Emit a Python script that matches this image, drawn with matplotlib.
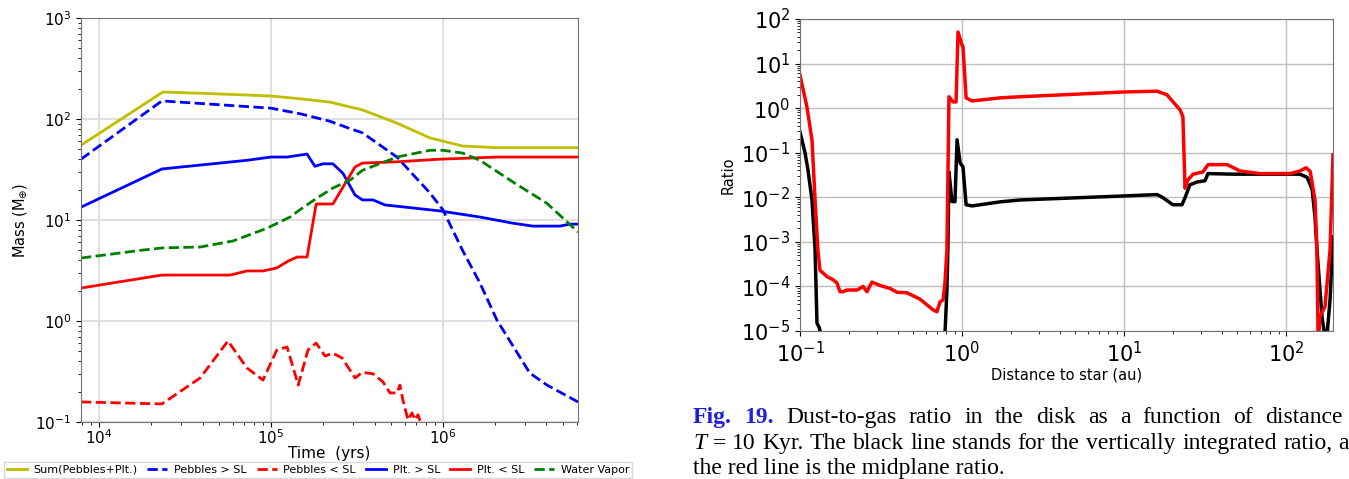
import numpy as np
import matplotlib.pyplot as plt
from matplotlib.ticker import LogLocator

# Panel izquierdo: masas (M_tierra) vs tiempo (años)
t_sum = [7850, 23500, 50000, 1.0e5, 1.5e5, 2.2e5, 3.4e5, 5.4e5, 8.4e5, 1.3e6, 2.06e6, 6.1e6]
m_sum = [55, 185, 177, 169, 158, 147, 123, 91, 65, 54, 52, 52]

t_peb_hi = [7850, 23200, 1.0e5, 1.5e5, 2.2e5, 2.9e5, 3.4e5, 5.4e5, 8.4e5, 1.0e6, 1.3e6,
            1.64e6, 2.06e6, 3.2e6, 4.03e6, 6.1e6]
m_peb_hi = [40, 151, 128, 112, 95, 80, 73, 42, 18.5, 12.6, 5.0, 2.38, 1.02, 0.305, 0.232, 0.158]

t_peb_lo = [7850, 23200, 38700, 56200, 72400, 89800, 1.08e5, 1.24e5, 1.44e5, 1.64e5, 1.83e5,
            2.06e5, 2.29e5, 2.59e5, 3.08e5, 3.4e5, 3.92e5, 4.48e5, 4.92e5, 5.4e5, 5.62e5,
            5.85e5, 6.26e5, 6.6e5, 6.88e5, 7.16e5, 7.55e5]
m_peb_lo = [0.158, 0.151, 0.273, 0.634, 0.343, 0.26, 0.516, 0.553, 0.232, 0.516, 0.605,
            0.45, 0.48, 0.43, 0.273, 0.31, 0.30, 0.249, 0.194, 0.194, 0.232,
            0.165, 0.105, 0.123, 0.105, 0.118, 0.09]

t_plt_hi = [7850, 23200, 72400, 1.0e5, 1.24e5, 1.62e5, 1.8e5, 2.0e5, 2.29e5, 2.62e5, 3.08e5,
            3.4e5, 3.92e5, 4.6e5, 9.6e5, 1.64e6, 2.55e6, 3.33e6, 4.79e6, 5.47e6, 6.1e6]
m_plt_hi = [13.4, 32, 39, 42, 42, 45, 34, 36, 36, 29, 17.7,
            15.8, 15.8, 14.1, 12.3, 10.7, 9.3, 8.7, 8.7, 9.1, 9.1]

t_plt_lo = [7850, 23200, 57800, 72400, 89800, 1.08e5, 1.26e5, 1.42e5, 1.62e5, 1.83e5, 2.29e5,
            3.08e5, 3.4e5, 5.4e5, 9.6e5, 2.06e6, 6.1e6]
m_plt_lo = [2.12, 2.85, 2.85, 3.13, 3.13, 3.35, 3.93, 4.3, 4.3, 14.4, 14.4,
            33.5, 36.6, 37.7, 40, 42, 42]

t_vap = [7850, 17300, 23500, 38700, 60100, 94900, 1.29e5, 1.47e5, 1.85e5, 2.29e5, 2.9e5,
         3.4e5, 5.4e5, 8.4e5, 1.0e6, 1.3e6, 1.64e6, 2.55e6, 4.03e6, 6.1e6]
m_vap = [4.2, 5.0, 5.3, 5.4, 6.2, 8.3, 10.7, 12.6, 16.5, 20.7, 25,
         31, 42, 49, 49, 46, 39, 23.8, 14.6, 7.6]

# Panel derecho: cociente polvo/gas vs distancia (au)
r_mid = [0.1, 0.1104, 0.1186, 0.1239, 0.129, 0.1328, 0.1469, 0.160, 0.169, 0.1766, 0.184,
         0.195, 0.225, 0.245, 0.259, 0.278, 0.312, 0.360, 0.397, 0.457, 0.55, 0.662, 0.70,
         0.732, 0.764, 0.785, 0.807, 0.831, 0.880, 0.919, 0.945, 1.0, 1.014, 1.06, 1.153,
         1.72, 2.28, 9.87, 16.0, 18.4, 22.2, 23.1, 23.8, 24.8, 26.7, 30.7, 33.0, 43.3, 52.0,
         69.0, 106, 122, 133, 141, 151, 155, 158, 162, 174, 187, 195]
q_mid = [5.5, 1.06, 0.19, 0.0087, 6.6e-4, 2.3e-4, 1.66e-4, 1.41e-4, 1.2e-4, 7.6e-5, 7.6e-5,
         8.3e-5, 8.3e-5, 1.0e-4, 7.6e-5, 1.25e-4, 1.05e-4, 9.0e-5, 7.4e-5, 7.2e-5, 5.2e-5, 3.0e-5, 2.7e-5,
         4.5e-5, 5.0e-5, 1.2e-4, 6.6e-4, 1.8, 1.38, 1.38, 51, 26, 24, 1.7, 1.45,
         1.7, 1.8, 2.3, 2.4, 2.0, 0.91, 0.64, 0.016, 0.0245, 0.033, 0.037, 0.054, 0.054, 0.039,
         0.034, 0.034, 0.039, 0.046, 0.038, 0.0087, 7.4e-4, 5e-6, 2.1e-5, 3.5e-5, 6.6e-4, 0.09]

r_int = [0.1, 0.1074, 0.1121, 0.1186, 0.1239, 0.1273, 0.1310, 0.1340, 0.138,
         0.780, 0.807, 0.818, 0.831, 0.867, 0.905, 0.932, 0.973, 1.014, 1.06, 1.153,
         1.72, 2.28, 9.87, 16.0, 17.4, 20.0, 22.8, 23.8, 25.5, 28.2, 31.6, 33.0, 47.0,
         76.0, 122, 135, 145, 151, 155, 167, 177, 187, 195]
q_int = [0.29, 0.1, 0.04, 0.0087, 6.6e-4, 1.5e-5, 1.23e-5, 9e-6, 5e-6,
         5e-6, 8.3e-5, 6.6e-4, 0.037, 0.008, 0.008, 0.195, 0.059, 0.048, 0.0068, 0.0064,
         0.0079, 0.0087, 0.0107, 0.0115, 0.0098, 0.0068, 0.0068, 0.0098, 0.019, 0.022, 0.0235, 0.034, 0.033,
         0.033, 0.033, 0.028, 0.015, 0.0036, 7.4e-4, 2e-5, 5e-6, 5e-5, 1.3e-3]

# Texto del pie de figura
cap_line1 = ['Fig.', '19.', 'Dust-to-gas', 'ratio', 'in', 'the', 'disk', 'as', 'a',
             'function', 'of', 'distance']
cap_line2 = ['T', '=', '10', 'Kyr.', 'The', 'black', 'line', 'stands', 'for', 'the',
             'vertically', 'integrated', 'ratio,', 'a']
cap_line3 = 'the red line is the midplane ratio.'

W, H = 1349, 479
fig = plt.figure(figsize=(W / 100, H / 100), dpi=100)

# ---- panel izquierdo ----
ax1 = fig.add_axes([81 / W, 1 - 422 / H, (578 - 81) / W, (422 - 18) / H])
ax1.plot(t_sum, m_sum, color='y', lw=2, label='Sum(Pebbles+Plt.)')
ax1.plot(t_peb_hi, m_peb_hi, color='b', lw=2, ls='--', label='Pebbles > SL')
ax1.plot(t_peb_lo, m_peb_lo, color='r', lw=2, ls='--', label='Pebbles < SL')
ax1.plot(t_plt_hi, m_plt_hi, color='b', lw=2, label='Plt. > SL')
ax1.plot(t_plt_lo, m_plt_lo, color='r', lw=2, label='Plt. < SL')
ax1.plot(t_vap, m_vap, color='g', lw=2, ls='--', label='Water Vapor')
ax1.set_xscale('log')
ax1.set_yscale('log')
ax1.set_xlim(7850, 6.1e6)
ax1.set_ylim(0.1, 1000)
ax1.grid(True, which='major', color='0.85', lw=1.2)
ax1.tick_params(labelsize=11)
ax1.tick_params(axis='x', pad=1)
ax1.set_xlabel('Time  (yrs)', fontsize=11, labelpad=-1)
ax1.set_ylabel(r'Mass (M$_{\oplus}$)', fontsize=10.5)
for s in ax1.spines.values():
    s.set_color('0.45')
ax1.legend(loc='upper center', bbox_to_anchor=(318 / W, 1 - 462 / H),
           bbox_transform=fig.transFigure, ncol=6, fontsize=8,
           handlelength=1.8, handletextpad=0.6, columnspacing=0.9,
           borderpad=0.25, borderaxespad=0, fancybox=False, framealpha=1,
           edgecolor='0.85')

# ---- panel derecho ----
ax2 = fig.add_axes([800 / W, 1 - 331 / H, 533 / W, 312 / H])
ax2.plot(r_int, q_int, color='k', lw=2.5)
ax2.plot(r_mid, q_mid, color='r', lw=2.5)
ax2.set_xscale('log')
ax2.set_yscale('log')
ax2.set_xlim(0.1, 195)
ax2.set_ylim(1e-5, 100)
ax2.yaxis.set_major_locator(LogLocator(base=10, numticks=12))
ax2.yaxis.set_minor_locator(LogLocator(base=10, subs=np.arange(2, 10) * 1.0, numticks=12))
ax2.grid(True, which='major', color='0.75', lw=1)
ax2.tick_params(labelsize=15)
ax2.set_xlabel('Distance to star (au)', fontsize=10.5, labelpad=1)
ax2.set_ylabel('Ratio', fontsize=10.5)
for s in ax2.spines.values():
    s.set_color('0.45')

# ---- pie de figura, lineas justificadas ----
serif = 'Liberation Serif'
fs = 17
renderer = fig.canvas.get_renderer()


def justify(words, x0, x1, ybase, styles):
    txts = []
    for w, st in zip(words, styles):
        txts.append(fig.text(0, ybase, w, family=serif, fontsize=fs, **st))
    widths = [t.get_window_extent(renderer).width for t in txts]
    gap = (x1 - x0 - sum(widths)) / (len(txts) - 1)
    x = x0
    for t, wd in zip(txts, widths):
        t.set_x(x / W)
        x += wd + gap


blue_bold = dict(weight='bold', color='#1f1fe0')
st1 = [blue_bold, blue_bold] + [{}] * (len(cap_line1) - 2)
justify(cap_line1, 693, 1343, 1 - 423 / H, st1)
st2 = [dict(style='italic')] + [{}] * (len(cap_line2) - 1)
justify(cap_line2, 693, 1349, 1 - 449 / H, st2)
fig.text(693 / W, 1 - 474 / H, cap_line3, family=serif, fontsize=fs)

fig.savefig('out.png', dpi=100)
